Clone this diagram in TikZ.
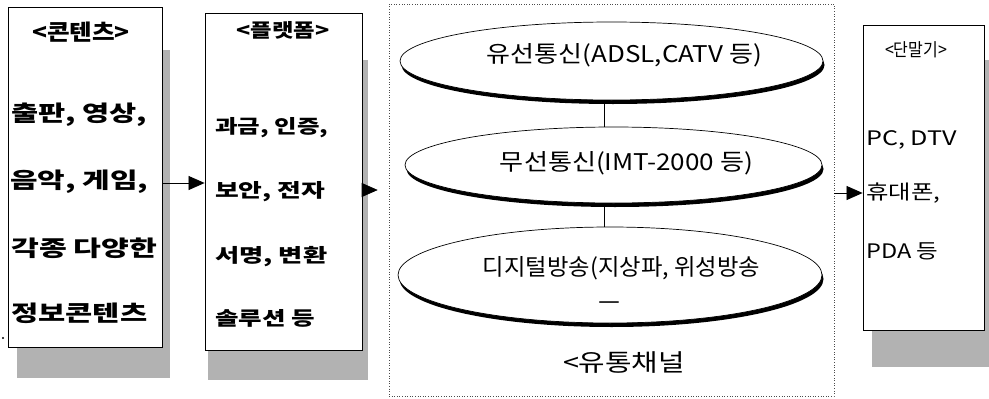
\documentclass[tikz,border=0pt]{standalone}
\usepackage{fontspec}
\usepackage{graphicx}
\usetikzlibrary{shapes.geometric,arrows.meta,shadows}
\newfontfamily\kr{Noto Sans CJK KR}
\newcommand{\fw}[2]{\resizebox{#1pt}{\height}{#2}}
\begin{document}
\begin{tikzpicture}[x=1pt,y=-1pt,
  box/.style={draw=black,line width=0.8pt,fill=white,rectangle,inner sep=0pt},
  shad/.style={fill=black!30,draw=none},
  chanbox/.style={draw=black!70,dotted,line width=0.6pt,rectangle,inner sep=0pt},
  ell/.style={ellipse,draw=black,line width=0.7pt,fill=white,inner sep=0pt,
    general shadow={fill=black,shadow xshift=1.5pt,shadow yshift=-4pt}},
  txt/.style={inner sep=0pt,anchor=west},
  ctxt/.style={inner sep=0pt,anchor=center},
  arr/.style={line width=0.7pt,-{Triangle[length=16pt,width=14pt]}},
  lnk/.style={line width=0.5pt}]
\useasboundingbox (0,0) rectangle (989,399);
% shadows
\fill[shad] (17,50) rectangle (170,378);
\fill[shad] (208,60) rectangle (368,380);
\fill[shad] (872,60) rectangle (995,367);
% boxes
\node[box,minimum width=154pt,minimum height=340pt] (cont) at (85,177) {};
\node[box,minimum width=157pt,minimum height=337pt] (plat) at (283.5,181.5) {};
\node[chanbox,minimum width=445pt,minimum height=392pt] (chan) at (611.5,200) {};
\node[box,minimum width=121pt,minimum height=305pt] (term) at (923.5,177.5) {};
% box 1 text
\node[ctxt,font=\kr\bfseries\fontsize{22}{26}\selectfont] (c0) at (81,32) {\fw{98}{<콘텐츠>}};
\node[txt,font=\kr\bfseries\fontsize{22}{26}\selectfont] (c1) at (11,115) {\fw{136}{출판, 영상,}};
\node[txt,font=\kr\bfseries\fontsize{22}{26}\selectfont] (c2) at (10,182) {\fw{138}{음악, 게임,}};
\node[txt,font=\kr\bfseries\fontsize{22}{26}\selectfont] (c3) at (11,248) {\fw{146}{각종 다양한}};
\node[txt,font=\kr\bfseries\fontsize{22}{26}\selectfont] (c4) at (11,313) {\fw{136}{정보콘텐츠}};
% box 2 text
\node[ctxt,font=\kr\bfseries\fontsize{19}{24}\selectfont] (p0) at (283,30) {\fw{93}{<플랫폼>}};
\node[txt,font=\kr\bfseries\fontsize{19}{24}\selectfont] (p1) at (215,128) {\fw{113}{과금, 인증,}};
\node[txt,font=\kr\bfseries\fontsize{19}{24}\selectfont] (p2) at (215,192) {\fw{110}{보안, 전자}};
\node[txt,font=\kr\bfseries\fontsize{19}{24}\selectfont] (p3) at (215,257) {\fw{112}{서명, 변환}};
\node[txt,font=\kr\bfseries\fontsize{19}{24}\selectfont] (p4) at (215,318) {\fw{100}{솔루션 등}};
% box 4 text
\node[ctxt,font=\kr\fontsize{18}{22}\selectfont] (t0) at (916,50) {\fw{62}{<단말기>}};
\node[txt,font=\kr\fontsize{20}{24}\selectfont] (t1) at (866,140) {\fw{91}{PC, DTV}};
\node[txt,font=\kr\fontsize{20}{24}\selectfont] (t2) at (866,193) {\fw{74}{휴대폰,}};
\node[txt,font=\kr\fontsize{20}{24}\selectfont] (t3) at (866,251) {\fw{72}{PDA 등}};
% ellipses
\node[ell,minimum width=423pt,minimum height=78pt] (e1) at (611.5,61) {};
\node[ell,minimum width=417pt,minimum height=76pt] (e2) at (613.5,165) {};
\node[ell,minimum width=424pt,minimum height=96pt] (e3) at (610,275) {};
\coordinate (lx) at (604,0);
\draw[lnk] (e1.south -| lx) -- (e2.north -| lx);
\draw[lnk] (e2.south -| lx) -- (e3.north -| lx);
\node[ctxt,font=\kr\fontsize{23}{26}\selectfont] (et1) at (624.5,55) {\fw{275}{유선통신(ADSL,CATV 등)}};
\node[ctxt,font=\kr\fontsize{23}{26}\selectfont] (et2) at (626.5,163) {\fw{253}{무선통신(IMT-2000 등)}};
\node[ctxt,font=\kr\fontsize{23}{26}\selectfont] (et3) at (621.5,268) {\fw{277}{디지털방송(지상파, 위성방송}};
\node[ctxt,font=\kr\fontsize{23}{26}\selectfont] (et4) at (609,307) {\fw{22}{ㅡ}};
\node[ctxt,font=\kr\fontsize{24}{28}\selectfont] (lbl) at (624,363) {\fw{122}{<유통채널}};
% arrows
\coordinate (a1) at (0,183);
\coordinate (a2) at (0,190);
\coordinate (a3) at (0,193);
\draw[arr] (cont.east |- a1) -- (plat.west |- a1);
\draw[arr,shorten >=11pt] (plat.east |- a2) -- (chan.west |- a2);
\draw[arr] (chan.east |- a3) -- (term.west |- a3);
% stray dot
\fill (3,338) circle (1.1pt);
\end{tikzpicture}
\end{document}
